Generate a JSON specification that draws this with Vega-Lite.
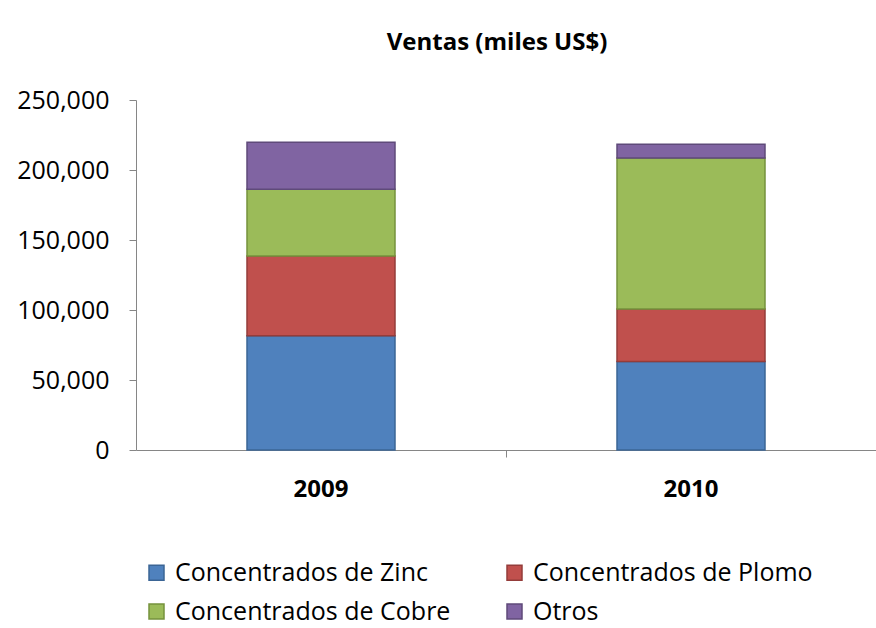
{
  "$schema": "https://vega.github.io/schema/vega-lite/v6.json",
  "width": 740,
  "height": 350,
  "autosize": {"type": "none"},
  "padding": {"left": 136, "top": 100, "right": 0, "bottom": 178},
  "background": "white",
  "view": {"stroke": null},
  "title": {
    "text": "Ventas (miles US$)",
    "font": "Open Sans",
    "fontSize": 24,
    "fontWeight": "bold",
    "color": "#000000",
    "anchor": "middle",
    "dx": -9,
    "offset": 33
  },
  "data": {
    "values": [
      {"anio": "2009", "producto": "Concentrados de Zinc", "orden": 1, "valor": 81600},
      {"anio": "2009", "producto": "Concentrados de Plomo", "orden": 2, "valor": 57000},
      {"anio": "2009", "producto": "Concentrados de Cobre", "orden": 3, "valor": 47600},
      {"anio": "2009", "producto": "Otros", "orden": 4, "valor": 33600},
      {"anio": "2010", "producto": "Concentrados de Zinc", "orden": 1, "valor": 63300},
      {"anio": "2010", "producto": "Concentrados de Plomo", "orden": 2, "valor": 37400},
      {"anio": "2010", "producto": "Concentrados de Cobre", "orden": 3, "valor": 107900},
      {"anio": "2010", "producto": "Otros", "orden": 4, "valor": 9800}
    ]
  },
  "mark": {"type": "bar", "strokeWidth": 1.5},
  "encoding": {
    "x": {
      "field": "anio",
      "type": "nominal",
      "scale": {"paddingInner": 0.6, "paddingOuter": 0.3},
      "axis": {
        "title": null,
        "labelAngle": 0,
        "labelFont": "Open Sans",
        "labelFontSize": 24,
        "labelFontWeight": "bold",
        "labelColor": "#000000",
        "labelPadding": 20,
        "domainColor": "#868686",
        "ticks": true,
        "tickColor": "#868686",
        "tickSize": 7,
        "bandPosition": 1.75,
        "tickExtra": false,
        "grid": false
      }
    },
    "y": {
      "field": "valor",
      "type": "quantitative",
      "stack": "zero",
      "scale": {"domain": [0, 250000], "nice": false},
      "axis": {
        "title": null,
        "values": [0, 50000, 100000, 150000, 200000, 250000],
        "format": ",d",
        "labelFont": "Open Sans",
        "labelFontSize": 25,
        "labelColor": "#000000",
        "labelPadding": 20,
        "domainColor": "#868686",
        "tickColor": "#868686",
        "tickSize": 7,
        "grid": false
      }
    },
    "order": {"field": "orden", "type": "quantitative", "sort": "ascending"},
    "color": {
      "field": "producto",
      "type": "nominal",
      "sort": ["Concentrados de Zinc", "Concentrados de Plomo", "Concentrados de Cobre", "Otros"],
      "scale": {
        "domain": ["Concentrados de Zinc", "Concentrados de Plomo", "Concentrados de Cobre", "Otros"],
        "range": ["#4F81BD", "#C0504D", "#9BBB59", "#8064A2"]
      },
      "legend": {
        "title": null,
        "orient": "none",
        "legendX": 8,
        "legendY": 460,
        "direction": "horizontal",
        "columns": 2,
        "symbolType": "square",
        "symbolSize": 225,
        "symbolStrokeWidth": 1.5,
        "labelFont": "Open Sans",
        "labelFontSize": 25,
        "labelColor": "#000000",
        "labelLimit": 400,
        "labelOffset": 6,
        "columnPadding": 51,
        "rowPadding": 13
      }
    },
    "stroke": {
      "field": "producto",
      "type": "nominal",
      "scale": {
        "domain": ["Concentrados de Zinc", "Concentrados de Plomo", "Concentrados de Cobre", "Otros"],
        "range": ["#3B6595", "#943C3A", "#76923C", "#5F4A7A"]
      },
      "legend": null
    }
  }
}
